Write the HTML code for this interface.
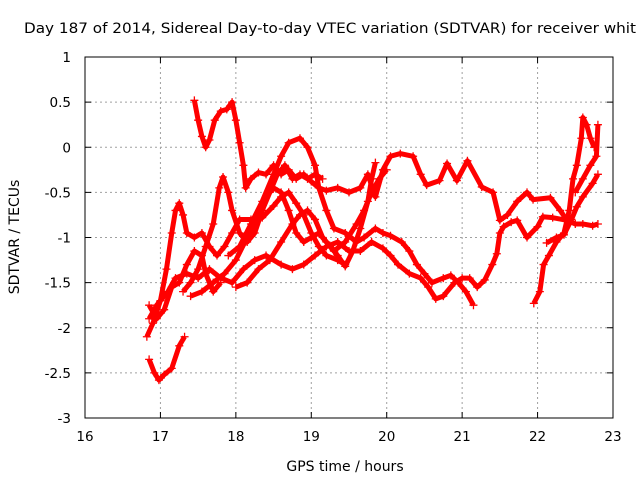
<!DOCTYPE html>
<html><head><meta charset="utf-8"><style>
body{margin:0;background:#fff;}
svg{display:block;font-family:"DejaVu Sans","Liberation Sans",sans-serif;}
</style></head><body>
<svg id="chart" width="640" height="480" xmlns="http://www.w3.org/2000/svg">
<text x="24" y="33" font-size="14" textLength="612" lengthAdjust="spacingAndGlyphs">Day 187 of 2014, Sidereal Day-to-day VTEC variation (SDTVAR) for receiver whit</text>
<text x="345" y="471" font-size="14" text-anchor="middle">GPS time / hours</text>
<text transform="translate(19,237) rotate(-90)" font-size="14" text-anchor="middle">SDTVAR / TECUs</text>
<g id="grid"></g>
<g id="ticks"></g>
<g id="marks"></g>
<rect x="85" y="57" width="528" height="361" fill="none" stroke="#000" stroke-width="1"/>
</svg>
<script>
const xTicks=[16,17,18,19,20,21,22,23];
const yTicks=[1,0.5,0,-0.5,-1,-1.5,-2,-2.5,-3];
const yTickLabels=["1","0.5","0","-0.5","-1","-1.5","-2","-2.5","-3"];
const s1=[[17.45,0.52],[17.5,0.3],[17.55,0.12],[17.6,0.0],[17.65,0.08],[17.72,0.3],[17.8,0.4],[17.88,0.42],[17.95,0.5],[18.0,0.3],[18.05,0.05],[18.1,-0.2],[18.13,-0.45],[18.2,-0.35],[18.3,-0.28],[18.4,-0.3],[18.5,-0.2],[18.6,-0.3],[18.7,-0.25],[18.8,-0.35],[18.9,-0.3],[19.0,-0.38],[19.1,-0.45],[19.2,-0.48],[19.35,-0.45],[19.5,-0.5],[19.65,-0.45],[19.75,-0.3],[19.85,-0.55],[19.95,-0.25],[20.05,-0.1],[20.18,-0.07],[20.35,-0.1],[20.45,-0.3],[20.53,-0.42],[20.7,-0.37],[20.8,-0.18],[20.93,-0.37],[21.07,-0.15],[21.26,-0.44],[21.41,-0.5],[21.5,-0.81],[21.6,-0.75],[21.73,-0.6],[21.86,-0.5],[21.94,-0.58],[22.17,-0.56],[22.3,-0.7],[22.39,-0.81],[22.5,-0.85],[22.6,-0.85],[22.73,-0.87],[22.8,-0.85]];
const s2=[[16.85,-1.9],[16.95,-1.75],[17.1,-1.6],[17.2,-1.45],[17.35,-1.4],[17.5,-1.45],[17.65,-1.35],[17.8,-1.45],[17.95,-1.5],[18.1,-1.35],[18.25,-1.25],[18.4,-1.2],[18.6,-1.3],[18.75,-1.35],[18.9,-1.3],[19.05,-1.2],[19.2,-1.1],[19.35,-1.05],[19.5,-1.15],[19.65,-1.15],[19.8,-1.05],[19.95,-1.12],[20.05,-1.2],[20.15,-1.3],[20.3,-1.4],[20.45,-1.45],[20.55,-1.55],[20.65,-1.68],[20.75,-1.65],[20.9,-1.5],[21.0,-1.45],[21.1,-1.45],[21.2,-1.55],[21.3,-1.47],[21.4,-1.3],[21.46,-1.18],[21.5,-0.95],[21.55,-0.88],[21.65,-0.83],[21.73,-0.81],[21.86,-1.0],[22.0,-0.88],[22.07,-0.77],[22.2,-0.78],[22.39,-0.81]];
const s3=[[17.9,-1.2],[18.05,-1.1],[18.2,-0.85],[18.35,-0.6],[18.5,-0.3],[18.6,-0.1],[18.7,0.05],[18.85,0.1],[18.95,0.0],[19.05,-0.2],[19.1,-0.45],[19.2,-0.7],[19.3,-0.9],[19.45,-0.95],[19.6,-1.05],[19.7,-1.0],[19.85,-0.9],[19.95,-0.95],[20.05,-0.98],[20.2,-1.05],[20.3,-1.15],[20.4,-1.3],[20.5,-1.4],[20.6,-1.5],[20.75,-1.45],[20.85,-1.42],[20.95,-1.5],[21.05,-1.6],[21.15,-1.75]];
const s4=[[16.82,-2.1],[16.9,-1.95],[17.0,-1.7],[17.08,-1.35],[17.15,-0.95],[17.2,-0.7],[17.25,-0.62],[17.3,-0.75],[17.35,-0.95],[17.45,-1.0],[17.55,-0.95],[17.65,-1.1],[17.75,-1.2],[17.85,-1.1],[17.95,-0.95],[18.05,-0.8],[18.2,-0.8],[18.35,-0.78],[18.5,-0.65],[18.6,-0.55],[18.7,-0.5],[18.8,-0.62],[18.9,-0.75],[19.0,-0.95],[19.1,-1.1],[19.2,-1.2],[19.35,-1.25],[19.45,-1.3]];
const s5=[[17.3,-1.6],[17.4,-1.5],[17.5,-1.35],[17.6,-1.1],[17.7,-0.85],[17.78,-0.45],[17.83,-0.33],[17.9,-0.5],[17.95,-0.7],[18.05,-0.95],[18.15,-1.05],[18.25,-0.95],[18.35,-0.7],[18.45,-0.5],[18.55,-0.3],[18.65,-0.2],[18.75,-0.35],[18.85,-0.3],[18.95,-0.35],[19.05,-0.3],[19.15,-0.35]];
const s6=[[16.85,-2.35],[16.92,-2.5],[16.98,-2.58],[17.05,-2.52],[17.15,-2.45],[17.25,-2.2],[17.32,-2.1]];
const s7=[[17.4,-1.65],[17.55,-1.6],[17.7,-1.5],[17.85,-1.4],[18.0,-1.25],[18.15,-1.0],[18.3,-0.75],[18.4,-0.55],[18.5,-0.45],[18.6,-0.5],[18.7,-0.7],[18.8,-0.95],[18.9,-1.05],[19.0,-1.0],[19.1,-0.95],[19.2,-1.05],[19.3,-1.15],[19.45,-1.05],[19.6,-0.85],[19.7,-0.7],[19.8,-0.5],[19.9,-0.35],[20.0,-0.25]];
const s8=[[18.0,-1.55],[18.15,-1.5],[18.3,-1.35],[18.45,-1.25],[18.6,-1.05],[18.75,-0.85],[18.85,-0.75],[18.95,-0.7],[19.05,-0.8],[19.15,-1.0],[19.25,-1.1],[19.35,-1.2],[19.45,-1.32],[19.55,-1.15],[19.65,-0.9],[19.75,-0.6],[19.8,-0.35],[19.85,-0.17]];
const s9=[[21.95,-1.73],[22.03,-1.6],[22.08,-1.3],[22.15,-1.2],[22.25,-1.05],[22.35,-0.95],[22.42,-0.7],[22.47,-0.35],[22.52,-0.2],[22.58,0.1],[22.6,0.33],[22.65,0.25],[22.7,0.1],[22.75,0.0]];
const s10=[[22.12,-1.06],[22.25,-1.0],[22.35,-0.97],[22.45,-0.8],[22.52,-0.66],[22.6,-0.55],[22.73,-0.4],[22.8,-0.3]];
const s11=[[22.5,-0.5],[22.6,-0.35],[22.7,-0.2],[22.78,-0.1],[22.8,0.25]];
const s12=[[16.85,-1.75],[16.95,-1.9],[17.05,-1.8],[17.15,-1.55],[17.25,-1.5],[17.35,-1.3],[17.45,-1.15],[17.55,-1.2],[17.6,-1.4],[17.7,-1.6],[17.8,-1.5]];
const seriesList=[s1,s2,s3,s4,s5,s6,s7,s8,s9,s10,s11,s12];

const NS="http://www.w3.org/2000/svg";
const X0=85,X1=613,Y0=57,Y1=418;
function xs(v){return X0+(v-16)/7*(X1-X0);}
function ys(v){return Y0+(1-v)/4*(Y1-Y0);}
function mk(tag,attrs,parent){const e=document.createElementNS(NS,tag);for(const k in attrs)e.setAttribute(k,attrs[k]);parent.appendChild(e);return e;}
const grid=document.getElementById('grid'),ticks=document.getElementById('ticks'),marks=document.getElementById('marks');
xTicks.forEach((t)=>{
  const x=xs(t);
  if(t>16&&t<23){const g=mk('line',{x1:x,x2:x,y1:Y0,y2:Y1,stroke:'#a0a0a0','stroke-dasharray':'2,3'},grid);
  
  }
  mk('line',{x1:x,x2:x,y1:Y1,y2:Y1-6,stroke:'#000'},ticks);
  mk('line',{x1:x,x2:x,y1:Y0,y2:Y0+6,stroke:'#000'},ticks);
  const l=mk('text',{x:x,y:Y1+23,'font-size':13.5,'text-anchor':'middle'},ticks);
  l.textContent=String(t);
  
  
});
yTicks.forEach((t,i)=>{
  const y=ys(t);
  if(t<1&&t>-3){const g=mk('line',{x1:X0,x2:X1,y1:y,y2:y,stroke:'#a0a0a0','stroke-dasharray':'2,3'},grid);
  
  }
  mk('line',{x1:X0,x2:X0+6,y1:y,y2:y,stroke:'#000'},ticks);
  mk('line',{x1:X1,x2:X1-6,y1:y,y2:y,stroke:'#000'},ticks);
  const l=mk('text',{x:X0-14,y:y+5,'font-size':13.5,'text-anchor':'end'},ticks);
  l.textContent=yTickLabels[i];
  
  
});
seriesList.forEach((s,si)=>{
  const g=mk('g',{},marks);
  
  
  mk('polyline',{points:s.map(p=>xs(p[0])+','+ys(p[1])).join(' '),fill:'none',stroke:'#ff0000','stroke-width':5,'stroke-linejoin':'round'},g);
  s.forEach(p=>{
    const x=xs(p[0]),y=ys(p[1]);
    const m=mk('path',{d:`M${x-4},${y}H${x+4}M${x},${y-4}V${y+4}`,stroke:'#ff0000','stroke-width':1.3},g);
    
    
  });
});
</script>
</body></html>
